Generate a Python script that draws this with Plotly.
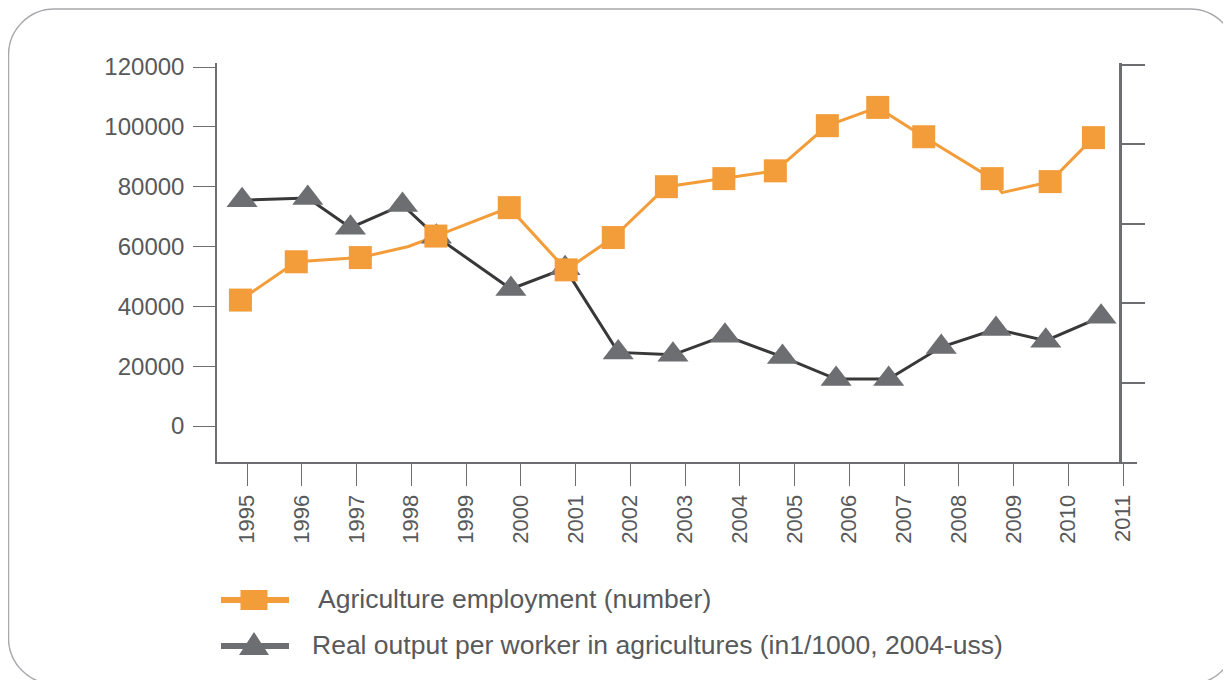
import plotly.graph_objects as go

# ---------------- data ----------------
years = list(range(1995, 2012))
year_labels = [str(y) for y in years]

# Agriculture employment (number) – marker positions
emp_x = [1994.88, 1995.90, 1997.07, 1998.45, 1999.79, 2000.83, 2001.69, 2002.66,
         2003.71, 2004.65, 2005.60, 2006.52, 2007.36, 2008.61, 2009.67, 2010.46]
emp_y = [42100, 54900, 56300, 63500, 73000, 52200, 63000, 80000,
         82700, 85300, 100400, 106500, 96700, 82700, 81700, 96400]
# line path of the employment series (has two extra bends without markers)
emp_line_x = [1994.88, 1995.90, 1997.07, 1997.95, 1998.45, 1999.79, 2000.83, 2001.69,
              2002.66, 2003.71, 2004.65, 2005.60, 2006.52, 2007.36, 2008.61, 2008.79,
              2009.67, 2010.46]
emp_line_y = [42100, 54900, 56300, 60000, 63500, 73000, 52200, 63000,
              80000, 82700, 85300, 100400, 106500, 96700, 82700, 78000,
              81700, 96400]

# Real output per worker in agriculture (in 1/1000, 2004-US$), drawn on left scale
out_x = [1994.91, 1996.11, 1996.89, 1997.84, 1998.46, 1999.82, 2000.81, 2001.78,
         2002.78, 2003.73, 2004.78, 2005.76, 2006.72, 2007.68, 2008.68, 2009.59, 2010.60]
out_y = [75500, 76200, 66300, 73900, 63300, 45800, 52700, 24600,
         23800, 30200, 23100, 15700, 15700, 26400, 32400, 28500, 36500]

left_ticks = [0, 20000, 40000, 60000, 80000, 100000, 120000]
left_tick_labels = ["0", "20000", "40000", "60000", "80000", "100000", "120000"]
right_ticks = [20, 40, 60, 80, 100]

legend_labels = ["Agriculture employment (number)",
                 "Real output per worker in agricultures (in1/1000, 2004-uss)"]

# ---------------- style ----------------
ORANGE = "#F39C3A"
GRAY = "#6D6E71"
DARK = "#383838"
TXT = "#58595B"
FONT = "Liberation Sans"

PAGE_W, PAGE_H = 1231, 680
OFF = 8                             # browser body margin
W, H = PAGE_W - OFF, PAGE_H - OFF
L, R, T, B = 217, 1137, 63, 462     # plot area in page pixels


def px(xp):
    return (xp - L) / (R - L)


def py(yp):
    return (B - yp) / (B - T)


fig = go.Figure()

fig.add_trace(go.Scatter(x=emp_line_x, y=emp_line_y, mode="lines",
                         line=dict(color=ORANGE, width=3), showlegend=False,
                         hoverinfo="skip"))
fig.add_trace(go.Scatter(x=out_x, y=out_y, mode="lines+markers",
                         line=dict(color=DARK, width=3),
                         marker=dict(symbol="triangle-up", size=27, color=GRAY),
                         name=legend_labels[1], showlegend=False))
fig.add_trace(go.Scatter(x=emp_x, y=emp_y, mode="markers",
                         marker=dict(symbol="square", size=23, color=ORANGE),
                         name=legend_labels[0], showlegend=False))
# dummy trace to create the unlabeled right axis
fig.add_trace(go.Scatter(x=[None], y=[None], yaxis="y2", showlegend=False))

x0 = 1995 + (L - 247) / 54.75
x1 = 1995 + (R - 247) / 54.75
fig.update_layout(
    width=W, height=H,
    margin=dict(l=L - OFF, r=PAGE_W - R, t=T - OFF, b=PAGE_H - B, pad=0),
    paper_bgcolor="white", plot_bgcolor="white",
    showlegend=False,
    xaxis=dict(range=[x0, x1], tickmode="array", tickvals=years, ticktext=year_labels,
               tickangle=-90, ticks="outside", ticklen=22, tickwidth=1.2, tickcolor=GRAY,
               showline=True, linecolor=GRAY, linewidth=2, showgrid=False, zeroline=False,
               tickfont=dict(family=FONT, size=22, color=TXT), domain=[0, 1]),
    yaxis=dict(range=[-(B - 426) * 334.3, (426 - T) * 334.3], tickmode="array",
               tickvals=left_ticks, ticktext=left_tick_labels,
               ticks="outside", ticklen=22, tickwidth=1.2, ticklabelstandoff=4,
               tickcolor=GRAY, showline=True, linecolor=GRAY, linewidth=1.5,
               showgrid=False, zeroline=False,
               tickfont=dict(family=FONT, size=24, color=TXT)),
    yaxis2=dict(overlaying="y", anchor="free", position=(1120 - L) / (R - L), side="right",
                range=[0, 100 * (B - T) / (B - 65)], tickmode="array", tickvals=right_ticks,
                showticklabels=False, ticks="outside", ticklen=23, tickwidth=1.5,
                tickcolor=GRAY, showline=True, linecolor=GRAY, linewidth=3,
                showgrid=False, zeroline=False),
)

# rounded frame around the chart
bx0, by0, bx1, by1, r = 8.5, 9, 1236, 684, 46
k = 0.5523 * r
path = (f"M {px(bx0 + r)},{py(by0)} L {px(bx1 - r)},{py(by0)} "
        f"C {px(bx1 - r + k)},{py(by0)} {px(bx1)},{py(by0 + r - k)} {px(bx1)},{py(by0 + r)} "
        f"L {px(bx1)},{py(by1 - r)} "
        f"C {px(bx1)},{py(by1 - r + k)} {px(bx1 - r + k)},{py(by1)} {px(bx1 - r)},{py(by1)} "
        f"L {px(bx0 + r)},{py(by1)} "
        f"C {px(bx0 + r - k)},{py(by1)} {px(bx0)},{py(by1 - r + k)} {px(bx0)},{py(by1 - r)} "
        f"L {px(bx0)},{py(by0 + r)} "
        f"C {px(bx0)},{py(by0 + r - k)} {px(bx0 + r - k)},{py(by0)} {px(bx0 + r)},{py(by0)} Z")
fig.add_shape(type="path", path=path, xref="paper", yref="paper", layer="below",
              line=dict(color="#A7A9AC", width=1.5))

# legend (drawn manually to match the long sample lines)
leg = [(600, ORANGE, ORANGE, 316), (646, GRAY, GRAY, 310)]
for i, (yy, lc, mc, tx) in enumerate(leg):
    fig.add_shape(type="line", xref="paper", yref="paper",
                  x0=px(221), x1=px(289), y0=py(yy), y1=py(yy),
                  line=dict(color=lc, width=6))
    if i == 0:
        fig.add_shape(type="rect", xref="paper", yref="paper",
                      xsizemode="pixel", ysizemode="pixel",
                      xanchor=px(254), yanchor=py(yy), x0=-13.5, x1=13.5, y0=-10, y1=10,
                      fillcolor=mc, line=dict(width=0))
    else:
        fig.add_shape(type="path", xref="paper", yref="paper",
                      xsizemode="pixel", ysizemode="pixel",
                      xanchor=px(254), yanchor=py(yy),
                      path="M -15,-9 L 15,-9 L 0,14 Z",
                      fillcolor=mc, line=dict(width=0))
    fig.add_annotation(x=px(tx), y=py(yy - 1), xref="paper", yref="paper",
                       xanchor="left", yanchor="middle", showarrow=False,
                       text=legend_labels[i],
                       font=dict(family=FONT, size=26.5, color=TXT))

fig.write_html("out.html")
